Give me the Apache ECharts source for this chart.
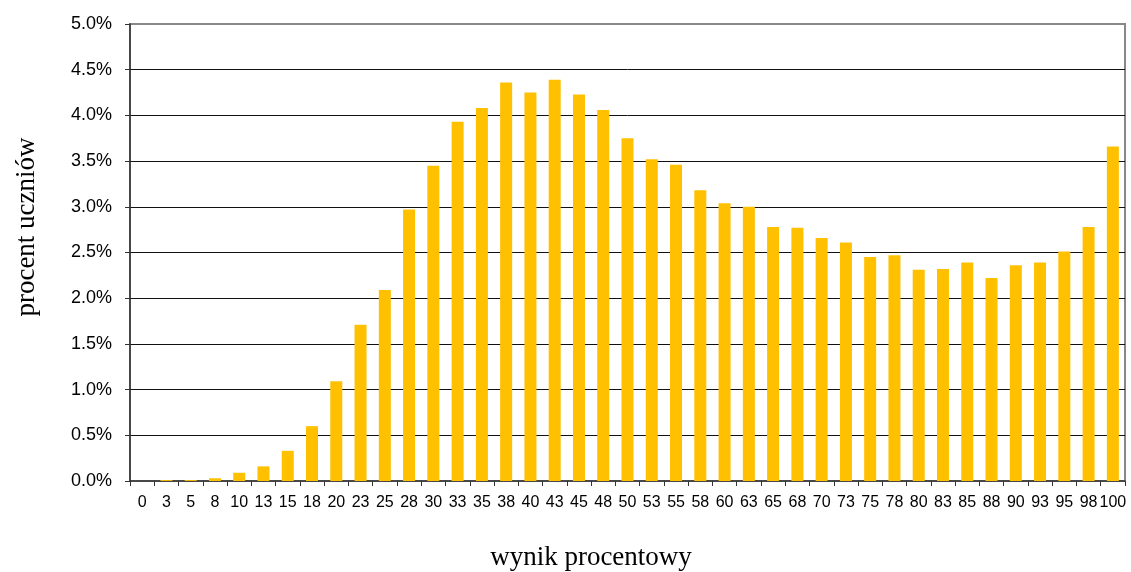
<!DOCTYPE html>
<html>
<head>
<meta charset="utf-8">
<script src="https://cdn.jsdelivr.net/npm/echarts@6/dist/echarts.min.js"></script>
<style>html,body{margin:0;padding:0;background:#fff}#c{width:1131px;height:572px}</style>
</head>
<body>
<div id="c"></div>
<script>
const categories = ['0','3','5','8','10','13','15','18','20','23','25','28','30','33','35','38','40','43','45','48','50','53','55','58','60','63','65','68','70','73','75','78','80','83','85','88','90','93','95','98','100'];
const values = [0.0,0.01,0.01,0.03,0.09,0.16,0.33,0.60,1.09,1.71,2.09,2.97,3.45,3.93,4.08,4.36,4.25,4.39,4.23,4.06,3.75,3.52,3.46,3.18,3.04,3.00,2.78,2.77,2.66,2.61,2.45,2.47,2.31,2.32,2.39,2.22,2.36,2.39,2.51,2.78,3.66];
const yTitle = 'procent uczniów';
const xTitle = 'wynik procentowy';

const chart = echarts.init(document.getElementById('c'));
chart.setOption({
  animation: false,
  grid: {left: 130, right: 6, top: 24, bottom: 91, show: true, borderColor: '#888', borderWidth: 2, backgroundColor: 'transparent'},
  xAxis: {
    type: 'category', data: categories,
    axisLine: {lineStyle: {color: '#333', width: 1.5}},
    axisTick: {show: true, length: 5, lineStyle: {color: '#333'}},
    axisLabel: {interval: 0, color: '#000', fontFamily: 'Liberation Sans', fontSize: 16, margin: 14, hideOverlap: false}
  },
  yAxis: {
    type: 'value', min: 0, max: 5, interval: 0.5,
    axisLine: {show: true, lineStyle: {color: '#333', width: 1.5}},
    axisTick: {show: true, length: 5, lineStyle: {color: '#333'}},
    axisLabel: {color: '#000', fontFamily: 'Liberation Sans', fontSize: 18, margin: 18,
      formatter: v => v.toFixed(1) + '%'},
    splitLine: {show: true, showMinLine: false, showMaxLine: false, lineStyle: {color: '#111', width: 1}}
  },
  graphic: [
    {type: 'text', x: 591, y: 558, style: {text: xTitle, font: '27px "Liberation Serif"', fill: '#000', align: 'center', verticalAlign: 'middle'}},
    {type: 'text', x: 27, y: 227, rotation: Math.PI / 2, style: {text: yTitle, font: '27px "Liberation Serif"', fill: '#000', align: 'center', verticalAlign: 'middle'}}
  ],
  series: [{
    type: 'bar', data: values, barWidth: 12,
    itemStyle: {color: '#FFC000'}
  }]
});
</script>
</body>
</html>
